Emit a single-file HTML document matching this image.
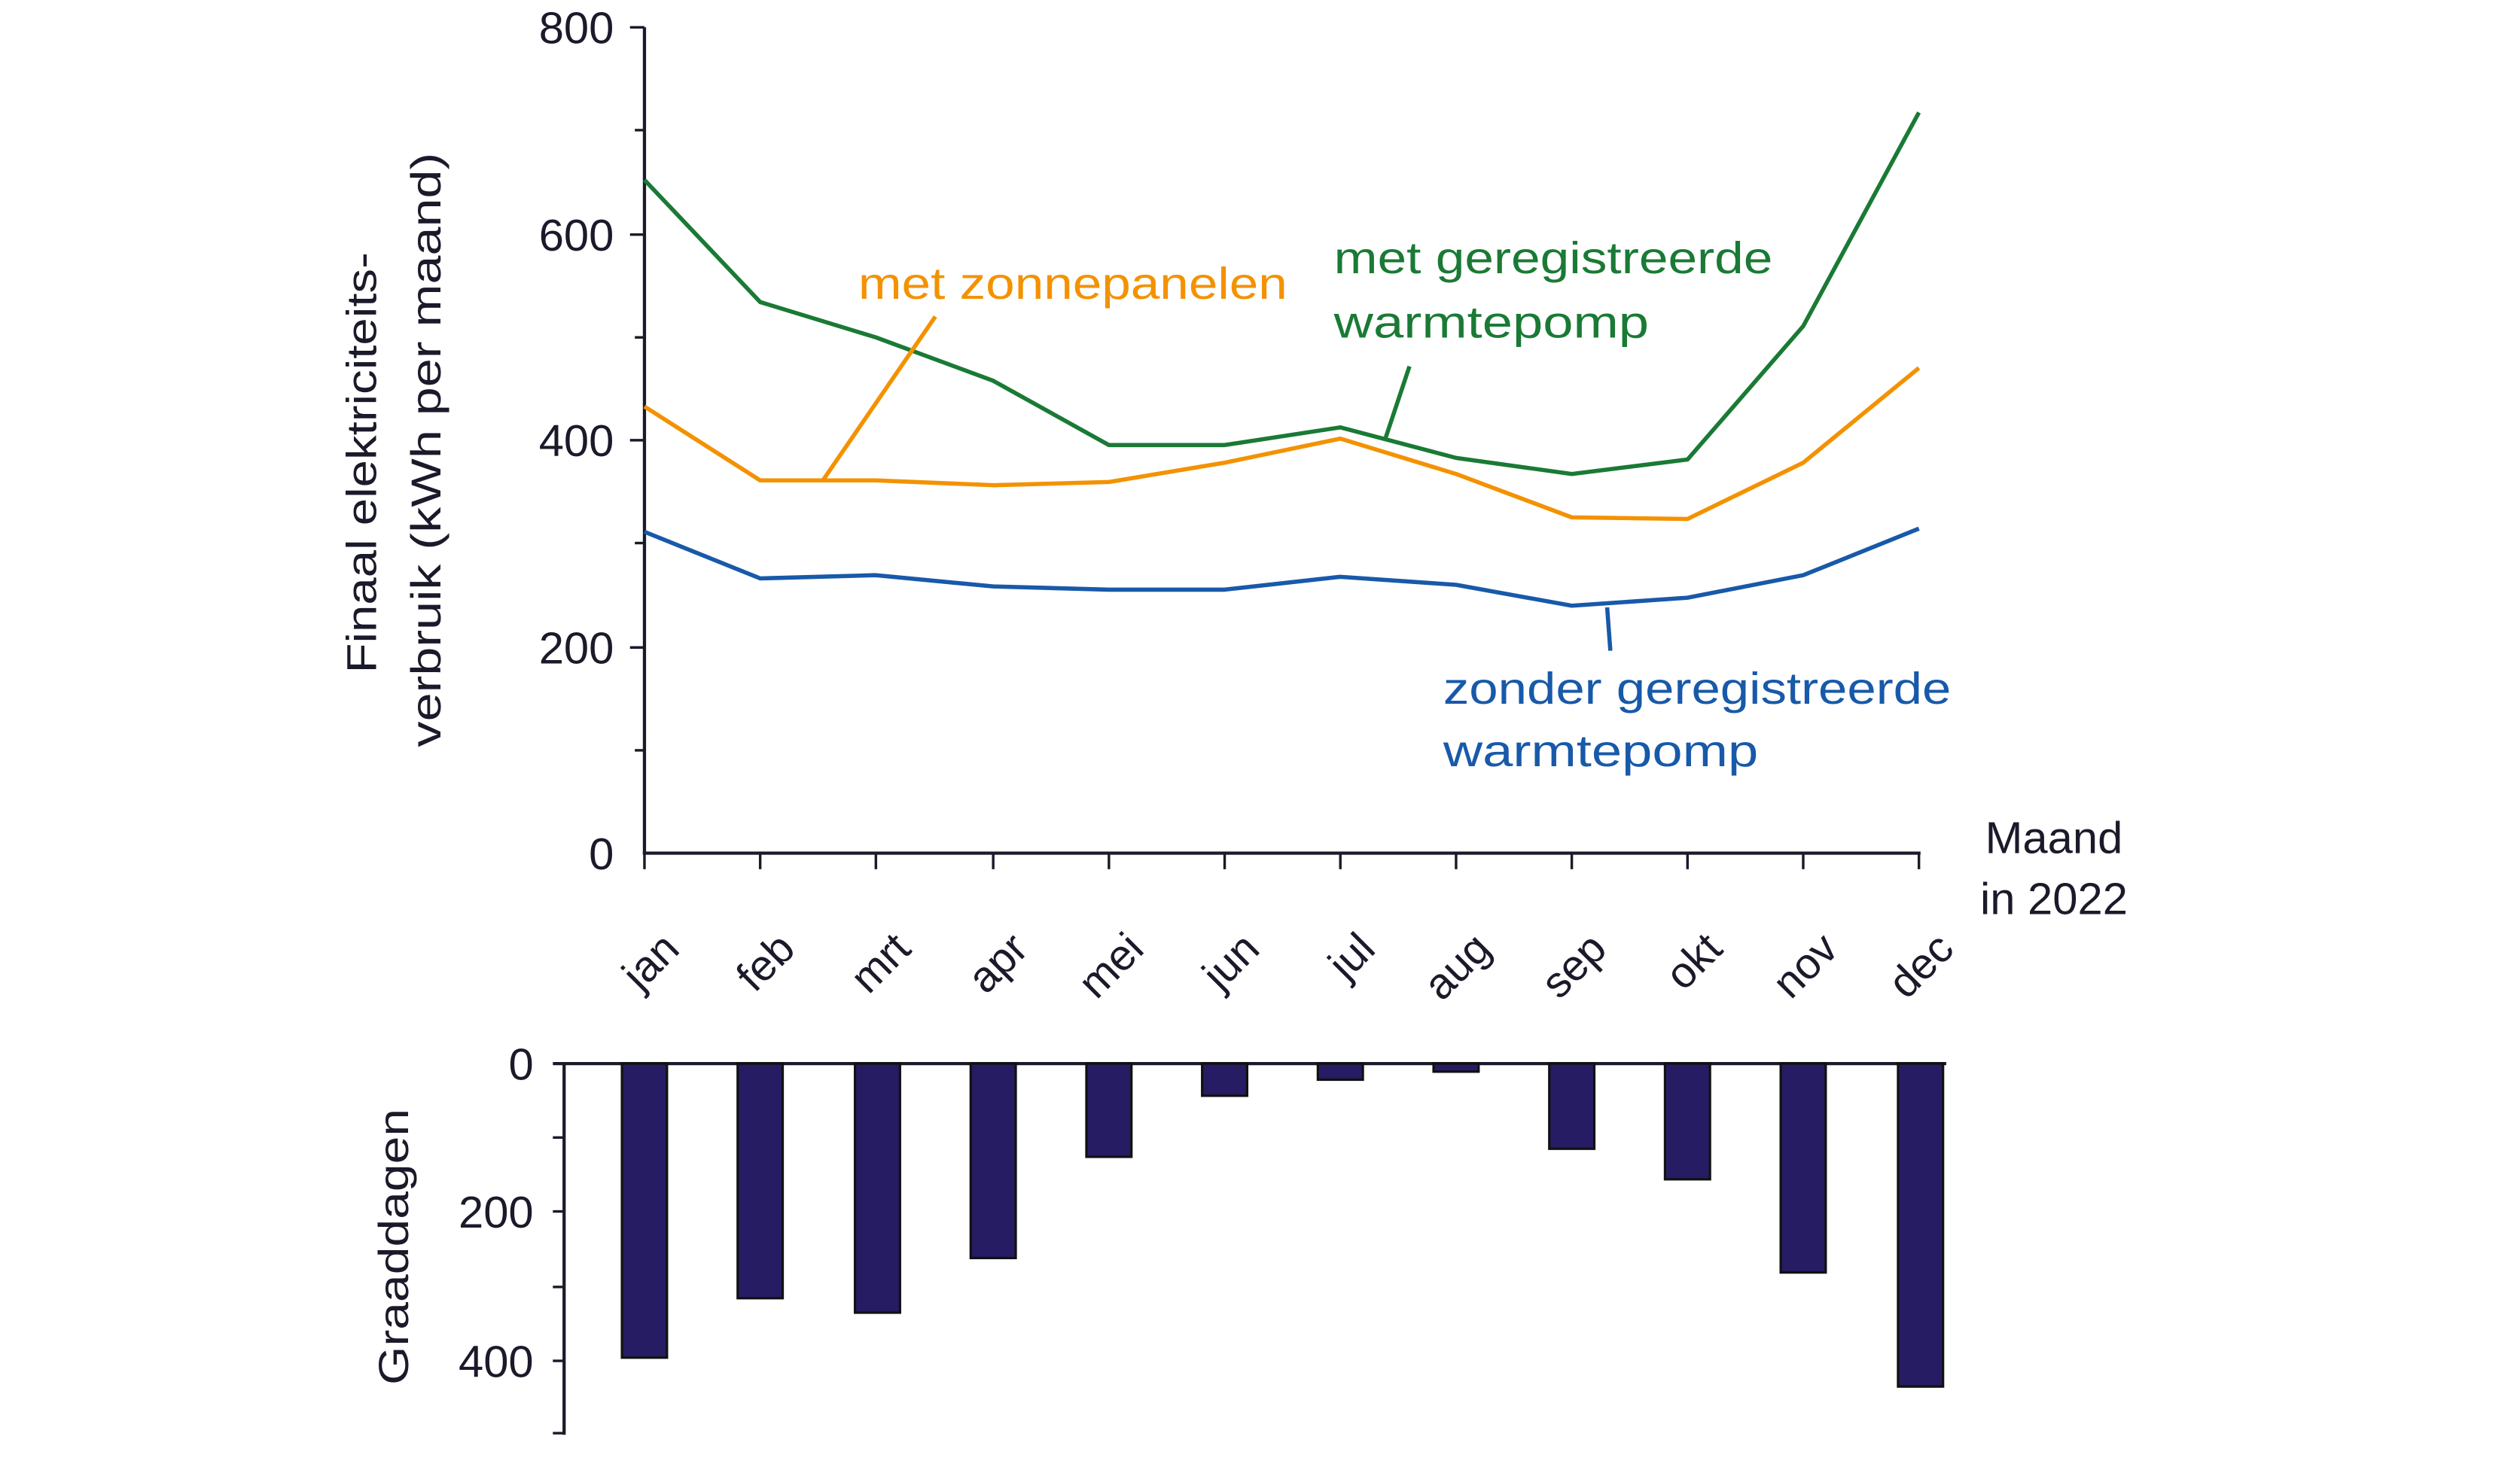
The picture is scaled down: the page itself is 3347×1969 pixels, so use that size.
<!DOCTYPE html>
<html><head><meta charset="utf-8"><style>
html,body{margin:0;padding:0;background:#fff}
svg{display:block}
text{font-family:"Liberation Sans",sans-serif;fill:#1a1a2a}
</style></head><body>
<svg width="3347" height="1969" viewBox="0 0 1568 922.4" preserveAspectRatio="none" xmlns="http://www.w3.org/2000/svg">
<g stroke="#1a1a2a" stroke-width="2" fill="none">
<line x1="401" y1="17" x2="401" y2="532"/>
<line x1="400" y1="531" x2="1195" y2="531"/>
<g stroke-width="1.6">
<line x1="392" y1="17" x2="401" y2="17"/><line x1="395" y1="81" x2="401" y2="81"/>
<line x1="392" y1="146" x2="401" y2="146"/><line x1="395" y1="210" x2="401" y2="210"/>
<line x1="392" y1="274" x2="401" y2="274"/><line x1="395" y1="338" x2="401" y2="338"/>
<line x1="392" y1="403" x2="401" y2="403"/><line x1="395" y1="467" x2="401" y2="467"/>
<line x1="401" y1="531" x2="401" y2="541"/><line x1="473" y1="531" x2="473" y2="541"/>
<line x1="545" y1="531" x2="545" y2="541"/><line x1="618" y1="531" x2="618" y2="541"/>
<line x1="690" y1="531" x2="690" y2="541"/><line x1="762" y1="531" x2="762" y2="541"/>
<line x1="834" y1="531" x2="834" y2="541"/><line x1="906" y1="531" x2="906" y2="541"/>
<line x1="978" y1="531" x2="978" y2="541"/><line x1="1050" y1="531" x2="1050" y2="541"/>
<line x1="1122" y1="531" x2="1122" y2="541"/><line x1="1194" y1="531" x2="1194" y2="541"/>
</g>
<line x1="351" y1="662" x2="351" y2="893"/>
<line x1="344" y1="662" x2="1211" y2="662"/>
<g stroke-width="1.6">
<line x1="344" y1="708" x2="351" y2="708"/><line x1="344" y1="754" x2="351" y2="754"/>
<line x1="344" y1="801" x2="351" y2="801"/><line x1="344" y1="847" x2="351" y2="847"/>
<line x1="344" y1="892" x2="351" y2="892"/>
</g>
</g>
<g font-size="28" text-anchor="end">
<text x="382" y="27">800</text><text x="382" y="156">600</text><text x="382" y="284">400</text>
<text x="382" y="413">200</text><text x="382" y="541">0</text>
<text x="332" y="672">0</text><text x="332" y="764">200</text><text x="332" y="857">400</text>
</g>
<text x="1278" y="531" font-size="28" text-anchor="middle">Maand</text>
<text x="1278" y="569" font-size="28" text-anchor="middle">in 2022</text>
<g font-size="26" text-anchor="middle">
<text transform="translate(234,288) rotate(-90)" textLength="262" lengthAdjust="spacingAndGlyphs">Finaal elektriciteits-</text>
<text transform="translate(274,280) rotate(-90)" textLength="370" lengthAdjust="spacingAndGlyphs">verbruik (kWh per maand)</text>
<text transform="translate(254,776) rotate(-90)" textLength="172" lengthAdjust="spacingAndGlyphs">Graaddagen</text>
</g>
<g font-size="27" text-anchor="end">
<text transform="translate(424,592) rotate(-45)">jan</text>
<text transform="translate(496,592) rotate(-45)">feb</text>
<text transform="translate(568,592) rotate(-45)">mrt</text>
<text transform="translate(641,592) rotate(-45)">apr</text>
<text transform="translate(713,592) rotate(-45)">mei</text>
<text transform="translate(785,592) rotate(-45)">jun</text>
<text transform="translate(857,592) rotate(-45)">jul</text>
<text transform="translate(929,592) rotate(-45)">aug</text>
<text transform="translate(1001,592) rotate(-45)">sep</text>
<text transform="translate(1073,592) rotate(-45)">okt</text>
<text transform="translate(1145,592) rotate(-45)">nov</text>
<text transform="translate(1217,592) rotate(-45)">dec</text>
</g>
<g fill="none" stroke-width="2.6" stroke-linejoin="round">
<polyline stroke="#1a7a35" points="401,112 473,188 545,210 618,237 690,277 762,277 834,266 906,285 978,295 1050,286 1122,203 1194,70"/>
<polyline stroke="#f39200" points="401,253 473,299 545,299 618,302 690,300 762,288 834,273 906,295 978,322 1050,323 1122,288 1194,229"/>
<polyline stroke="#1859a9" points="401,331 473,360 545,358 618,365 690,367 762,367 834,359 906,364 978,377 1050,372 1122,358 1194,329"/>
<line stroke="#f39200" x1="512" y1="299" x2="582" y2="197"/>
<line stroke="#1a7a35" x1="862" y1="273" x2="877" y2="228"/>
<line stroke="#1859a9" x1="1000" y1="378" x2="1002" y2="405"/>
</g>
<text x="534" y="186" font-size="28" style="fill:#f39200" textLength="267" lengthAdjust="spacingAndGlyphs">met zonnepanelen</text>
<text x="830" y="170" font-size="28" style="fill:#1a7a35" textLength="273" lengthAdjust="spacingAndGlyphs">met geregistreerde</text>
<text x="830" y="210" font-size="28" style="fill:#1a7a35" textLength="196" lengthAdjust="spacingAndGlyphs">warmtepomp</text>
<text x="898" y="438" font-size="28" style="fill:#1859a9" textLength="316" lengthAdjust="spacingAndGlyphs">zonder geregistreerde</text>
<text x="898" y="477" font-size="28" style="fill:#1859a9" textLength="196" lengthAdjust="spacingAndGlyphs">warmtepomp</text>
<g fill="#261c64" stroke="#111" stroke-width="1.5">
<rect x="387" y="662" width="28" height="183"/>
<rect x="459" y="662" width="28" height="146"/>
<rect x="532" y="662" width="28" height="155"/>
<rect x="604" y="662" width="28" height="121"/>
<rect x="676" y="662" width="28" height="58"/>
<rect x="748" y="662" width="28" height="20"/>
<rect x="820" y="662" width="28" height="10"/>
<rect x="892" y="662" width="28" height="5"/>
<rect x="964" y="662" width="28" height="53"/>
<rect x="1036" y="662" width="28" height="72"/>
<rect x="1108" y="662" width="28" height="130"/>
<rect x="1181" y="662" width="28" height="201"/>
</g>
</svg>
</body></html>
